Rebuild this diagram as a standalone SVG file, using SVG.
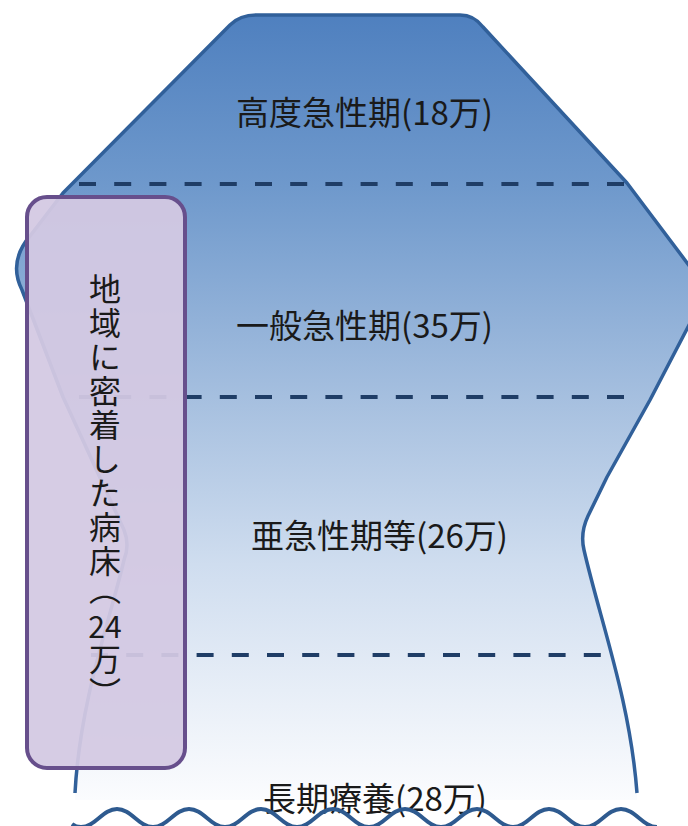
<svg xmlns="http://www.w3.org/2000/svg" width="688" height="826" viewBox="0 0 688 826">
<style>
.lbl{font-family:"Noto Sans CJK JP","Noto Sans",sans-serif;font-size:33px;fill:#1a1a1a}
.vt{font-family:"Noto Sans CJK JP","Noto Sans",sans-serif;font-size:32px;fill:#1a1a1a;writing-mode:vertical-rl}
.dash{stroke:#1f3d66;stroke-width:4;stroke-dasharray:17 18.2;fill:none}
.outline{fill:none;stroke:#31609a;stroke-width:3.5;stroke-linejoin:round}
</style>
<defs>
<linearGradient id="g" x1="0" y1="15" x2="0" y2="800" gradientUnits="userSpaceOnUse">
<stop offset="0" stop-color="#4f80bf"/>
<stop offset="0.22" stop-color="#6f99cc"/>
<stop offset="0.5" stop-color="#a8c1e0"/>
<stop offset="0.7" stop-color="#cfddef"/>
<stop offset="0.88" stop-color="#eaf0f8"/>
<stop offset="1" stop-color="#fbfcfe"/>
</linearGradient>
</defs>
<g id="pyramid">
<path d="M 256 15 L 460 15 Q 474 15 483 27 L 627 183 L 700 280 Q 708 291 701 302 L 650 400 L 607 477 L 588 516 Q 580 533 584 550 C 600 620 630 700 637 793 L 637 800 L 75 800 L 75 793 C 80 700 110 620 124 560 Q 130 545 124 530 L 63 397 L 22 290 Q 8 262 30 236 L 63 193 L 230 25 Q 240 15 256 15 Z" fill="url(#g)" stroke="none"/>
<path class="outline" d="M 637 793 C 630 700 600 620 584 550 Q 580 533 588 516 L 607 477 L 650 400 L 701 302 Q 708 291 700 280 L 627 183 L 483 27 Q 474 15 460 15 L 256 15 Q 240 15 230 25 L 63 193 L 30 236 Q 8 262 22 290 L 63 397 L 124 530 Q 130 545 124 560 C 110 620 80 700 75 793"/>
</g>
<g id="connectors">
<line class="dash" x1="79" y1="184" x2="628" y2="184"/>
<line class="dash" x1="79" y1="397" x2="626" y2="397"/>
<line class="dash" x1="91" y1="655" x2="607" y2="655"/>
</g>
<g id="high-acute"><text class="lbl" x="236" y="125">高度急性期(18万)</text></g>
<g id="general-acute"><text class="lbl" x="236" y="338">一般急性期(35万)</text></g>
<g id="subacute"><text class="lbl" x="251" y="548">亜急性期等(26万)</text></g>
<g id="long-term"><text class="lbl" x="263" y="811">長期療養(28万)</text></g>
<g id="wave">
<path d="M 72 824 Q 76 827 81 827 C 95 827 103 809 117 809 S 139 827 153 827 S 175 809 189 809 S 211 827 225 827 S 247 809 261 809 S 283 827 297 827 S 319 809 333 809 S 355 827 369 827 S 391 809 405 809 S 427 827 441 827 S 463 809 477 809 S 499 827 513 827 S 535 809 549 809 S 571 827 585 827 S 607 809 621 809 S 643 827 657 827" fill="none" stroke="#2e5a8f" stroke-width="4"/>
</g>
<g id="community-beds">
<rect x="27" y="197" width="158" height="571" rx="20" ry="20" fill="#d3c9e2" fill-opacity="0.94" stroke="#674f8c" stroke-width="4"/>
<text class="vt" x="105" y="273" letter-spacing="2">地域に密着した病床</text>
<text class="vt" x="105" y="573">（</text>
<text class="lbl" x="105" y="638" text-anchor="middle" style="font-size:30px">24</text>
<text class="vt" x="105" y="643" letter-spacing="2">万）</text>
</g>
</svg>
